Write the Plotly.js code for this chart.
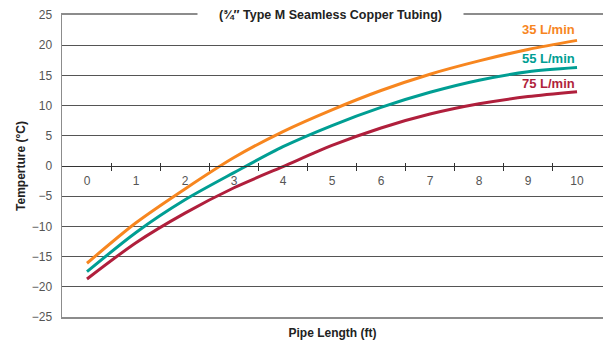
<!DOCTYPE html>
<html>
<head>
<meta charset="utf-8">
<script src="https://cdn.plot.ly/plotly-3.0.1.min.js"></script>
<style>html,body{margin:0;padding:0;background:#fff;}#chart{width:603px;height:340px;}</style>
</head>
<body>
<div id="chart"></div>
<script>
const pipeLength = [0, 1, 2, 3, 4, 5, 6, 7, 8, 9, 10];
const temp35 = [-16.1, -9.4, -3.8, 1.4, 5.7, 9.3, 12.5, 15.2, 17.4, 19.3, 20.8];
const temp55 = [-17.5, -11.0, -5.6, -1.1, 3.2, 6.7, 9.7, 12.2, 14.2, 15.6, 16.3];
const temp75 = [-18.7, -12.7, -7.8, -3.6, -0.1, 3.4, 6.3, 8.6, 10.3, 11.5, 12.3];
const seriesNames = ['35 L/min', '55 L/min', '75 L/min'];
const seriesColors = ['#F7861F', '#009E93', '#B01F3C'];
const yTicks = [-25, -20, -15, -10, -5, 0, 5, 10, 15, 20, 25];
const xTicks = [0, 1, 2, 3, 4, 5, 6, 7, 8, 9, 10];
const xMinorTicks = [0.5, 1.5, 2.5, 3.5, 4.5, 5.5, 6.5, 7.5, 8.5, 9.5];
const chartTitle = '(¾″ Type M Seamless Copper Tubing)';
const xTitle = 'Pipe Length (ft)';
const yTitle = 'Temperture (°C)';

const FONT = 'Liberation Sans, Arial, Helvetica, sans-serif';
const xRange = [-0.51, 10.53];
const series = [temp35, temp55, temp75];

const traces = series.map((s, i) => ({
  x: pipeLength, y: s, type: 'scatter', mode: 'lines',
  name: seriesNames[i],
  line: {color: seriesColors[i], width: 3, shape: 'spline', smoothing: 0.8},
  xaxis: 'x', yaxis: 'y', hoverinfo: 'skip'
}));
// empty helper traces so the overlay axes (frame, minor ticks) get drawn
['x2', 'x3', 'x4'].forEach(ax => traces.push({
  x: [], y: [], type: 'scatter', mode: 'lines', xaxis: ax, yaxis: 'y',
  hoverinfo: 'skip', showlegend: false
}));

const labelY = [22.6, 17.8, 13.7];
const annotations = seriesNames.map((n, i) => ({
  text: n, x: pipeLength[pipeLength.length - 1], y: labelY[i], xref: 'x', yref: 'y',
  xanchor: 'right', yanchor: 'middle', showarrow: false,
  font: {family: FONT, size: 13, color: seriesColors[i], weight: 'bold'}
}));
annotations.push({
  text: chartTitle, xref: 'paper', yref: 'y', x: 0.497, y: 25,
  xanchor: 'center', yanchor: 'middle', showarrow: false,
  bgcolor: '#ffffff', width: 257, borderpad: 4,
  font: {family: FONT, size: 12.5, color: '#222', weight: 'bold'}
});

const layout = {
  width: 603, height: 340,
  margin: {l: 62, r: 0, t: 15, b: 23},
  paper_bgcolor: '#fff', plot_bgcolor: '#fff',
  showlegend: false,
  font: {family: FONT, size: 12, color: '#555'},
  xaxis: {
    range: xRange, anchor: 'free', position: 0.5,
    tickvals: xTicks, ticks: '', showgrid: false, zeroline: false,
    showline: true, linecolor: '#333', linewidth: 1,
    ticklabelstandoff: 4,
    tickfont: {family: FONT, size: 12, color: '#555'}
  },
  xaxis2: {
    range: xRange, overlaying: 'x', anchor: 'y', side: 'bottom',
    showline: true, mirror: true, linecolor: '#8c8c8c', linewidth: 2,
    showgrid: false, zeroline: false, ticks: '', showticklabels: false,
    title: {text: xTitle, standoff: 11, font: {family: FONT, size: 12, color: '#222', weight: 'bold'}}
  },
  xaxis3: {
    range: xRange, overlaying: 'x', anchor: 'free', position: 0.5,
    tickvals: xMinorTicks, ticks: 'outside', ticklen: 4, tickwidth: 1, tickcolor: '#333',
    showticklabels: false, showline: false, showgrid: false, zeroline: false
  },
  xaxis4: {
    range: xRange, overlaying: 'x', anchor: 'free', position: 0.5, side: 'top',
    tickvals: xMinorTicks, ticks: 'outside', ticklen: 3, tickwidth: 1, tickcolor: '#333',
    showticklabels: false, showline: false, showgrid: false, zeroline: false
  },
  yaxis: {
    range: [-25, 25], tickvals: yTicks, ticks: '',
    showgrid: true, gridcolor: '#555', gridwidth: 1, zeroline: false,
    showline: true, linecolor: '#8c8c8c', linewidth: 1.5,
    ticklabelstandoff: 6,
    tickfont: {family: FONT, size: 12, color: '#555'},
    title: {text: yTitle, standoff: 3, font: {family: FONT, size: 12, color: '#222', weight: 'bold'}}
  },
  annotations: annotations
};

Plotly.newPlot('chart', traces, layout, {displayModeBar: false, staticPlot: true});
</script>
</body>
</html>
